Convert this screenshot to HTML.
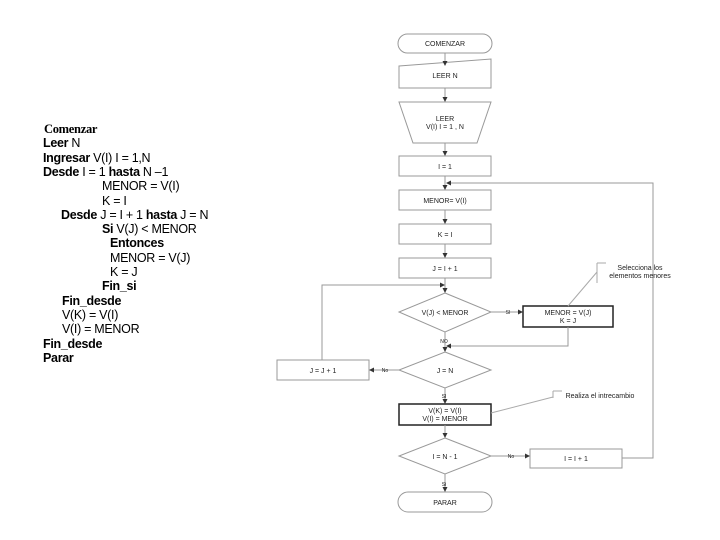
<!DOCTYPE html>
<html><head><meta charset="utf-8"><style>
body{margin:0;width:720px;height:540px;background:#fff;position:relative;overflow:hidden;font-family:"Liberation Sans",sans-serif}
.l{position:absolute;font-size:12.5px;line-height:14px;color:#000;white-space:pre;letter-spacing:-0.3px}
b{font-weight:bold}
svg{position:absolute;left:0;top:0}
</style></head><body>
<div class="l" style="left:44px;top:122px;font-family:'Liberation Serif',serif;font-weight:bold">Comenzar</div>
<div class="l" style="left:43px;top:136.3px"><b>Leer</b> N</div>
<div class="l" style="left:43px;top:150.6px"><b>Ingresar</b> V(I) I = 1,N</div>
<div class="l" style="left:43px;top:164.9px"><b>Desde</b> I = 1 <b>hasta</b> N –1</div>
<div class="l" style="left:102px;top:179.2px">MENOR = V(I)</div>
<div class="l" style="left:102px;top:193.5px">K = I</div>
<div class="l" style="left:61px;top:207.8px"><b>Desde</b> J = I + 1 <b>hasta</b> J = N</div>
<div class="l" style="left:102px;top:222.1px"><b>Si</b> V(J) &lt; MENOR</div>
<div class="l" style="left:110px;top:236.4px"><b>Entonces</b></div>
<div class="l" style="left:110px;top:250.7px">MENOR = V(J)</div>
<div class="l" style="left:110px;top:265px">K = J</div>
<div class="l" style="left:102px;top:279.3px"><b>Fin_si</b></div>
<div class="l" style="left:62px;top:293.6px"><b>Fin_desde</b></div>
<div class="l" style="left:62px;top:307.9px">V(K) = V(I)</div>
<div class="l" style="left:62px;top:322.2px">V(I) = MENOR</div>
<div class="l" style="left:43px;top:336.5px"><b>Fin_desde</b></div>
<div class="l" style="left:43px;top:350.8px"><b>Parar</b></div>

<svg width="720" height="540" font-family="Liberation Sans, sans-serif" font-size="7" text-anchor="middle">
<defs><marker id="a" markerWidth="5" markerHeight="5" refX="4" refY="2.5" orient="auto"><path d="M0,0L5,2.5L0,5z" fill="#333"/></marker></defs>
<g fill="#fff" stroke="#999" stroke-width="1">
<rect x="398" y="34" width="94" height="19" rx="9.5"/>
<path d="M399,66 L491,59 L491,88 L399,88 Z"/>
<path d="M399,102 L491,102 L477,143 L413,143 Z"/>
<rect x="399" y="156" width="92" height="20"/>
<rect x="399" y="190" width="92" height="20"/>
<rect x="399" y="224" width="92" height="20"/>
<rect x="399" y="258" width="92" height="20"/>
<path d="M445,293 L491,312 L445,332 L399,312 Z"/>
<path d="M445,352 L491,370 L445,388 L399,370 Z"/>
<rect x="277" y="360" width="92" height="20"/>
<path d="M445,438 L491,456 L445,474 L399,456 Z"/>
<rect x="530" y="449" width="92" height="19"/>
<rect x="398" y="492" width="94" height="20" rx="10"/>
</g>
<g fill="#fff" stroke="#222" stroke-width="1.5">
<rect x="523" y="306" width="90" height="21"/>
<rect x="399" y="404" width="92" height="21"/>
</g>
<g fill="none" stroke="#999" stroke-width="1" marker-end="url(#a)">
<path d="M445,53V65"/><path d="M445,88V101"/><path d="M445,143V155"/>
<path d="M445,176V189"/><path d="M445,210V223"/><path d="M445,244V257"/>
<path d="M445,278V292"/>
<path d="M491,312H522"/>
<path d="M568,327V346H447"/>
<path d="M445,332V351"/>
<path d="M399,370H370"/>
<path d="M322,360V285H444"/>
<path d="M445,388V403"/>
<path d="M445,425V437"/>
<path d="M491,456H529"/>
<path d="M622,458H653V183H447"/>
<path d="M445,474V491"/>
</g>
<g stroke="#aaa" fill="none">
<path d="M568,306L597,272"/><path d="M597,263V283"/><path d="M597,263H606"/>
<path d="M491,413L553,397"/><path d="M553,391V398"/><path d="M553,391H562"/>
</g>
<g fill="#222">
<text x="445" y="46">COMENZAR</text>
<text x="445" y="78">LEER N</text>
<text x="445" y="121">LEER</text>
<text x="445" y="129">V(I) I = 1 , N</text>
<text x="445" y="169">I = 1</text>
<text x="445" y="203">MENOR= V(I)</text>
<text x="445" y="237">K = I</text>
<text x="445" y="271">J = I + 1</text>
<text x="445" y="315">V(J) &lt; MENOR</text>
<text x="568" y="315">MENOR = V(J)</text>
<text x="568" y="323">K = J</text>
<text x="508" y="314" font-size="5">SI</text>
<text x="444" y="343" font-size="5">NO</text>
<text x="445" y="373">J = N</text>
<text x="323" y="373">J = J + 1</text>
<text x="385" y="372" font-size="5">No</text>
<text x="444" y="398" font-size="5">SI</text>
<text x="445" y="413">V(K) = V(I)</text>
<text x="445" y="421">V(I) = MENOR</text>
<text x="445" y="459">I = N - 1</text>
<text x="511" y="458" font-size="5">No</text>
<text x="576" y="461">I = I + 1</text>
<text x="444" y="486" font-size="5">Si</text>
<text x="445" y="505">PARAR</text>
<text x="640" y="270">Selecciona los</text>
<text x="640" y="278">elementos menores</text>
<text x="600" y="398">Realiza el intrecambio</text>
</g>
</svg>
</body></html>
